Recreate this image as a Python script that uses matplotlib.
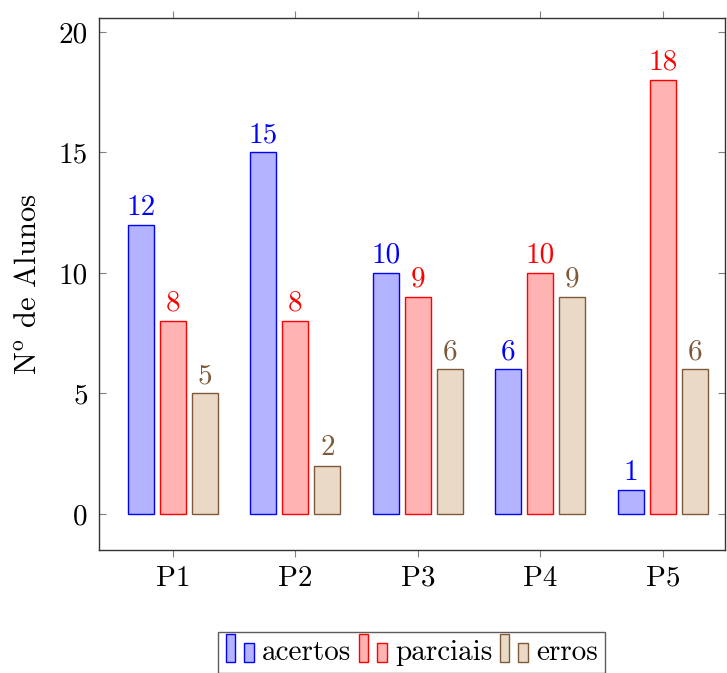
import matplotlib
matplotlib.use("Agg")
import matplotlib.pyplot as plt
import numpy as np
from matplotlib.patches import Rectangle
from matplotlib.legend_handler import HandlerBase

plt.rcParams['font.family'] = 'serif'
plt.rcParams['font.serif'] = ['cmr10', 'DejaVu Serif']
plt.rcParams['mathtext.fontset'] = 'cm'
plt.rcParams['axes.formatter.use_mathtext'] = True

categories = ['P1', 'P2', 'P3', 'P4', 'P5']
acertos = [12, 15, 10, 6, 1]
parciais = [8, 8, 9, 10, 18]
erros = [5, 2, 6, 9, 6]
series_names = ['acertos', 'parciais', 'erros']
yticks = [0, 5, 10, 15, 20]

fills = ['#b3b3ff', '#ffb3b3', '#ead9c6']
edges = ['#0000ff', '#ff0000', '#7f5a3a']

FS = 21

fig = plt.figure(figsize=(7.27, 6.73), dpi=100)
ax = fig.add_axes([0.136, 0.1828, 0.861, 0.7905])

x = np.arange(len(categories))
width = 0.212
offs = [-0.261, 0.0, 0.261]
handles = []
for data, off, fc, ec, name in zip([acertos, parciais, erros], offs, fills, edges, series_names):
    bars = ax.bar(x + off, data, width, color=fc, edgecolor=ec, linewidth=1.0, label=name)
    ax.bar_label(bars, labels=[str(v) for v in data], padding=3, color=ec, fontsize=FS)
    handles.append(bars)

ax.set_xlim(-0.604, 4.506)
ax.set_ylim(-1.5, 20.58)
ax.set_xticks(x)
ax.set_xticklabels(categories, fontsize=FS)
ax.set_yticks(yticks)
ax.set_yticklabels([str(t) for t in yticks], fontsize=FS)
ax.set_ylabel(r'N$^{\mathrm{o}}$ de Alunos', fontsize=FS + 1, labelpad=12)

ax.tick_params(axis='x', direction='out', top=True, bottom=True, length=5, color='#808080', width=0.8, pad=6)
ax.tick_params(axis='y', direction='in', left=True, right=True, length=5, color='#808080', width=0.8, pad=8)
for s in ax.spines.values():
    s.set_color('#333333')
    s.set_linewidth(1.0)


class TwoBarHandler(HandlerBase):
    def create_artists(self, legend, orig_handle, xdescent, ydescent, width, height, fontsize, trans):
        p = orig_handle.patches[0]
        fc = p.get_facecolor()
        ec = p.get_edgecolor()
        r1 = Rectangle((-xdescent, -ydescent - 2), width * 0.3, height * 1.4,
                       facecolor=fc, edgecolor=ec, linewidth=1.0, transform=trans)
        r2 = Rectangle((-xdescent + width * 0.58, -ydescent - 2), width * 0.3, height * 0.95,
                       facecolor=fc, edgecolor=ec, linewidth=1.0, transform=trans)
        return [r1, r2]


leg = ax.legend(handles, series_names, loc='upper center', bbox_to_anchor=(0.5, -0.154),
                ncol=3, frameon=True, fancybox=False, edgecolor='#333333', fontsize=FS,
                handler_map={type(handles[0]): TwoBarHandler()},
                handlelength=1.1, handletextpad=0.15, columnspacing=0.25, borderpad=0.25,
                borderaxespad=0)
leg.get_frame().set_linewidth(1.0)

fig.savefig('out.png', dpi=100)
